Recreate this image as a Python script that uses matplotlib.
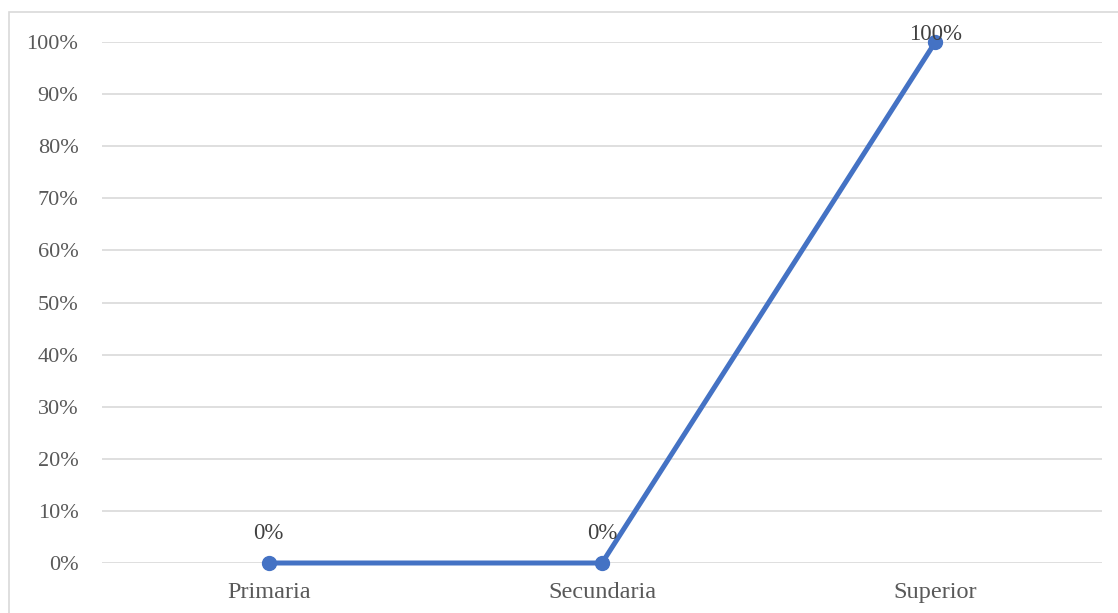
import matplotlib.pyplot as plt
from matplotlib.patches import Rectangle
from matplotlib.ticker import FuncFormatter

categorias = ['Primaria', 'Secundaria', 'Superior']
valores = [0, 0, 100]
etiquetas = ['0%', '0%', '100%']

plt.rcParams['font.family'] = ['Liberation Serif', 'DejaVu Serif']
gris = '#595959'
azul = '#4472C4'

fig = plt.figure(figsize=(11.18, 6.13), dpi=100)
ax = fig.add_axes([102 / 1118, 1 - 563 / 613, 1000 / 1118, 521 / 613])

# borde del área del gráfico
fig.patches.append(Rectangle((8.5 / 1118, -0.1), 1.2, 1 - 12.5 / 613 + 0.1,
                             transform=fig.transFigure, fill=False,
                             edgecolor='#D9D9D9', linewidth=1.2))

x = list(range(len(categorias)))
ax.plot(x, valores, color=azul, linewidth=3.6, marker='o', markersize=10,
        solid_capstyle='round', zorder=3, clip_on=False)

for xi, v, t in zip(x, valores, etiquetas):
    off = 14 if v == 0 else 1.5
    ax.annotate(t, (xi, v), textcoords='offset points', xytext=(0, off),
                ha='center', va='bottom' if v == 0 else 'baseline',
                fontsize=16.5, color='#404040', zorder=4)

ax.set_xlim(-0.5, 2.5)
ax.set_ylim(0, 100)
ax.set_yticks(range(0, 101, 10))
ax.yaxis.set_major_formatter(FuncFormatter(lambda v, p: f'{int(v)}%'))
ax.set_xticks(x)
ax.set_xticklabels(categorias)
ax.grid(axis='y', color='#D9D9D9', linewidth=1.2)
ax.set_axisbelow(True)
for s in ax.spines.values():
    s.set_visible(False)
ax.tick_params(length=0, labelcolor=gris)
ax.tick_params(axis='y', pad=17, labelsize=16)
ax.tick_params(axis='x', pad=14, labelsize=17.5)

plt.savefig('out.png', dpi=100)
